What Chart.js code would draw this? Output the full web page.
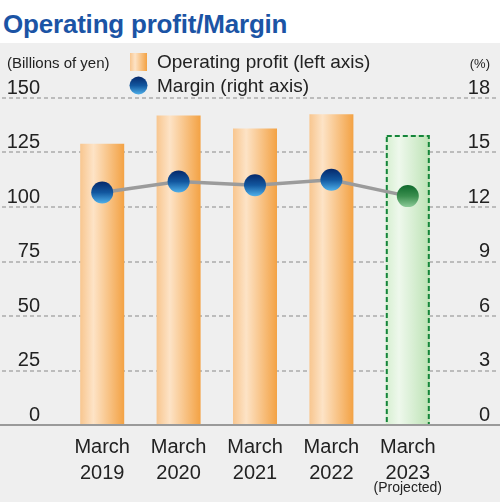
<!DOCTYPE html>
<html>
<head>
<meta charset="utf-8">
<script src="https://cdn.jsdelivr.net/npm/chart.js@4/dist/chart.umd.min.js"></script>
<style>
  html, body { margin: 0; padding: 0; background: #fff; }
  #wrap { position: relative; width: 500px; height: 502px; overflow: hidden; }
  #title {
    position: absolute; left: 3px; top: 11px; margin: 0;
    font: bold 26px "Liberation Sans", Arial, Helvetica, sans-serif;
    line-height: 26px; letter-spacing: -0.2px; color: #1b54a5;
  }
  #panel { position: absolute; left: 0; top: 43px; width: 500px; height: 459px; background: #efefef; }
</style>
</head>
<body>
<div id="wrap">
  <h1 id="title">Operating profit/Margin</h1>
  <div id="panel"><canvas id="grafico" width="500" height="459"></canvas></div>
</div>
<script>
const FONT = '"Liberation Sans", Arial, Helvetica, sans-serif';

// dados
const anos = [["March", "2019"], ["March", "2020"], ["March", "2021"], ["March", "2022"], ["March", "2023"]];
const lucroOperacional = [129, 142, 136, 142.5, 133]; // bilhoes de ienes (eixo esquerdo)
const margem = [12.8, 13.4, 13.2, 13.5, 12.6];        // % (eixo direito)
const projetado = [false, false, false, false, true];
const nomeLucro = "Operating profit (left axis)";
const nomeMargem = "Margin (right axis)";
const unidadeEsq = "(Billions of yen)";
const unidadeDir = "(%)";
const notaProjetado = "(Projected)";

const LARGURA_BARRA = 0.576;

function corBarra(c) {
  const chart = c.chart;
  const xs = chart.scales.x;
  if (!xs || !chart.chartArea) return "#f8c690";
  const cx = xs.getPixelForValue(c.dataIndex);
  const meia = (xs.width / anos.length) * LARGURA_BARRA / 2;
  const g = chart.ctx.createLinearGradient(cx - meia, 0, cx + meia, 0);
  if (projetado[c.dataIndex]) {
    g.addColorStop(0, "#d6efd0");
    g.addColorStop(0.3, "#eef8ec");
    g.addColorStop(1, "#bde3b5");
  } else {
    g.addColorStop(0, "#f8c68f");
    g.addColorStop(0.3, "#fde3c6");
    g.addColorStop(1, "#f3a244");
  }
  return g;
}

function corPonto(c) {
  const chart = c.chart;
  const ys = chart.scales.y1;
  if (!ys || !chart.chartArea) return "#0d4a9a";
  const py = ys.getPixelForValue(margem[c.dataIndex]);
  const g = chart.ctx.createLinearGradient(0, py - 11, 0, py + 11);
  if (projetado[c.dataIndex]) {
    g.addColorStop(0, "#0f6a2c");
    g.addColorStop(0.5, "#3a8e4e");
    g.addColorStop(1, "#8ccb98");
  } else {
    g.addColorStop(0, "#05286a");
    g.addColorStop(0.5, "#12579f");
    g.addColorStop(1, "#4fb0ea");
  }
  return g;
}

const painel = {
  id: "painel",
  beforeDatasetsDraw(chart) {
    const { ctx, width } = chart;
    const ys = chart.scales.y;
    ctx.save();
    ctx.strokeStyle = "#acacac";
    ctx.lineWidth = 1.5;
    ctx.setLineDash([4, 3]);
    ys.ticks.forEach((t) => {
      if (t.value === 0) return;
      const py = Math.round(ys.getPixelForValue(t.value));
      ctx.beginPath();
      ctx.moveTo(2, py);
      ctx.lineTo(width - 2, py);
      ctx.stroke();
    });
    ctx.restore();
  },
  afterDatasetDraw(chart, args) {
    if (args.index !== 0) return;
    const ctx = chart.ctx;
    const meta = chart.getDatasetMeta(0);
    ctx.save();
    ctx.strokeStyle = "#15853a";
    ctx.lineWidth = 2;
    ctx.setLineDash([5, 3]);
    meta.data.forEach((el, i) => {
      if (!projetado[i]) return;
      const { x, y, base, width } = el.getProps(["x", "y", "base", "width"], true);
      ctx.strokeRect(x - width / 2 + 1, y + 1, width - 2, base - y - 1);
    });
    ctx.restore();
  },
  afterDatasetsDraw(chart) {
    const { ctx, width } = chart;
    const py = Math.round(chart.scales.y.getPixelForValue(0));
    ctx.save();
    ctx.strokeStyle = "#9a9a9a";
    ctx.lineWidth = 2;
    ctx.beginPath();
    ctx.moveTo(0, py);
    ctx.lineTo(width, py);
    ctx.stroke();
    ctx.restore();
  },
  afterDraw(chart) {
    const ctx = chart.ctx;
    ctx.save();
    ctx.fillStyle = "#222";
    ctx.textBaseline = "alphabetic";
    ctx.font = "15px " + FONT;
    ctx.textAlign = "left";
    ctx.fillText(unidadeEsq, 7, 24.5);
    ctx.font = "13px " + FONT;
    ctx.textAlign = "right";
    ctx.fillText(unidadeDir, 490, 24.5);

    // legenda
    const g1 = ctx.createLinearGradient(130, 0, 147, 0);
    g1.addColorStop(0, "#f8c68f");
    g1.addColorStop(0.3, "#fde3c6");
    g1.addColorStop(1, "#f3a244");
    ctx.fillStyle = g1;
    ctx.fillRect(130, 10, 17, 18);
    const g2 = ctx.createLinearGradient(0, 33.5, 0, 51.5);
    g2.addColorStop(0, "#05286a");
    g2.addColorStop(0.5, "#12579f");
    g2.addColorStop(1, "#4fb0ea");
    ctx.fillStyle = g2;
    ctx.beginPath();
    ctx.arc(138.5, 42.5, 9, 0, Math.PI * 2);
    ctx.fill();
    ctx.fillStyle = "#222";
    ctx.font = "19px " + FONT;
    ctx.textAlign = "left";
    ctx.fillText(nomeLucro, 157, 25.3);
    ctx.fillText(nomeMargem, 157, 48.7);

    // nota do ano projetado
    const xs = chart.scales.x;
    ctx.font = "14px " + FONT;
    ctx.textAlign = "center";
    ctx.textBaseline = "middle";
    projetado.forEach((p, i) => {
      if (p) ctx.fillText(notaProjetado, xs.getPixelForValue(i), 445);
    });
    ctx.restore();
  },
};

new Chart(document.querySelector("#grafico"), {
  data: {
    labels: anos,
    datasets: [
      {
        type: "bar",
        label: nomeLucro,
        data: lucroOperacional,
        yAxisID: "y",
        backgroundColor: corBarra,
        borderWidth: 0,
        barPercentage: LARGURA_BARRA,
        categoryPercentage: 1,
        order: 1,
      },
      {
        type: "line",
        label: nomeMargem,
        data: margem,
        yAxisID: "y1",
        borderColor: "#9b9b9b",
        borderWidth: 3.5,
        pointRadius: 11,
        pointBorderWidth: 0,
        pointBackgroundColor: corPonto,
        tension: 0,
        order: 0,
      },
    ],
  },
  options: {
    responsive: false,
    animation: false,
    layout: { padding: { top: 55, right: 10, bottom: 0, left: 0 } },
    plugins: { legend: { display: false }, tooltip: { enabled: false } },
    scales: {
      x: {
        grid: { display: false, drawTicks: false },
        border: { display: false },
        ticks: { color: "#222", font: { family: FONT, size: 20, lineHeight: 1.3 }, padding: 9, maxRotation: 0, autoSkip: false },
        afterFit: (s) => { s.height = 77; },
      },
      y: {
        position: "left",
        min: 0,
        max: 150,
        grid: { display: false, drawTicks: false },
        border: { display: false },
        ticks: { stepSize: 25, color: "#222", font: { family: FONT, size: 20 }, padding: 24, labelOffset: -10 },
        afterFit: (s) => { s.width = 64; },
      },
      y1: {
        position: "right",
        min: 0,
        max: 18,
        grid: { display: false, drawTicks: false },
        border: { display: false },
        ticks: { stepSize: 3, color: "#222", font: { family: FONT, size: 20 }, crossAlign: "far", labelOffset: -10 },
        afterFit: (s) => { s.width = 44; },
      },
    },
  },
  plugins: [painel],
});
</script>
</body>
</html>
